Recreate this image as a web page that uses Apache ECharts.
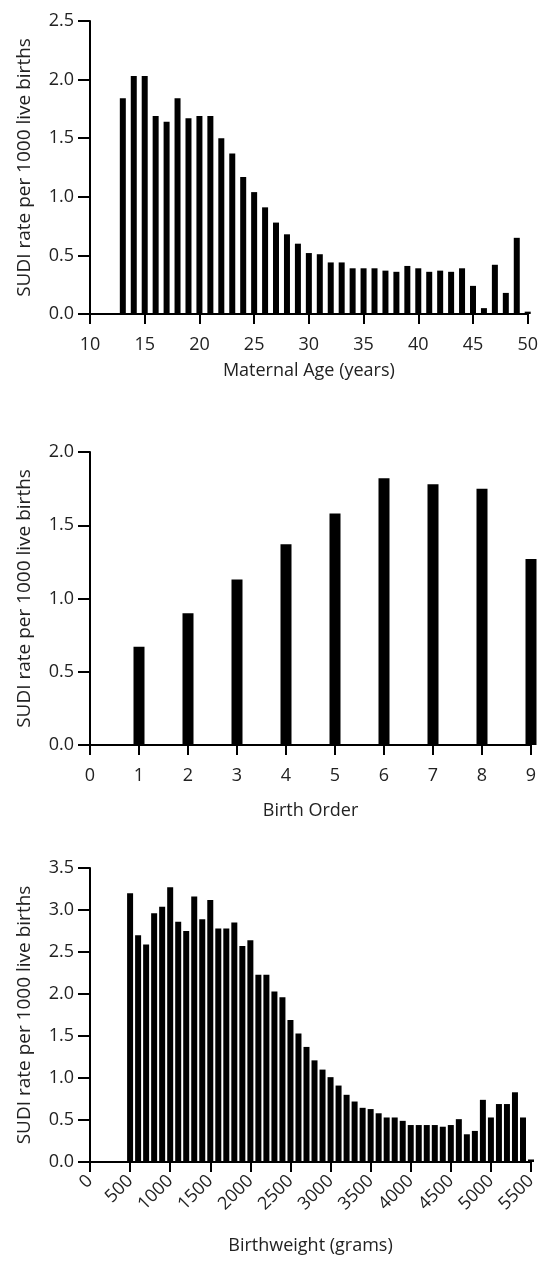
<!DOCTYPE html>
<html>
<head>
<meta charset="utf-8">
<script src="https://cdn.jsdelivr.net/npm/echarts@6/dist/echarts.min.js"></script>
<style>
  html, body { margin: 0; padding: 0; background: #fff; }
  #main { width: 541px; height: 1262px; }
</style>
</head>
<body>
<div id="main"></div>
<script>
// maternal age (years) -> SUDI rate
var ageYears = [13, 14, 15, 16, 17, 18, 19, 20, 21, 22, 23, 24, 25, 26, 27, 28, 29, 30, 31,
  32, 33, 34, 35, 36, 37, 38, 39, 40, 41, 42, 43, 44, 45, 46, 47, 48, 49, 50];
var ageRate = [1.84, 2.03, 2.03, 1.69, 1.64, 1.84, 1.67, 1.69, 1.69, 1.50, 1.37, 1.17, 1.04,
  0.91, 0.78, 0.68, 0.60, 0.52, 0.51, 0.44, 0.44, 0.39, 0.39, 0.39, 0.37, 0.36, 0.41, 0.39,
  0.36, 0.37, 0.36, 0.39, 0.24, 0.05, 0.42, 0.18, 0.65, 0.02];

// birth order -> SUDI rate
var birthOrder = [1, 2, 3, 4, 5, 6, 7, 8, 9];
var orderRate = [0.67, 0.90, 1.13, 1.37, 1.58, 1.82, 1.78, 1.75, 1.27];

// birthweight (grams) -> SUDI rate
var weightGrams = [500, 600, 700, 800, 900, 1000, 1100, 1200, 1300, 1400, 1500, 1600, 1700,
  1800, 1900, 2000, 2100, 2200, 2300, 2400, 2500, 2600, 2700, 2800, 2900, 3000, 3100, 3200,
  3300, 3400, 3500, 3600, 3700, 3800, 3900, 4000, 4100, 4200, 4300, 4400, 4500, 4600, 4700,
  4800, 4900, 5000, 5100, 5200, 5300, 5400, 5500];
var weightRate = [3.20, 2.70, 2.59, 2.96, 3.04, 3.27, 2.86, 2.75, 3.16, 2.89, 3.12, 2.78, 2.78,
  2.85, 2.57, 2.64, 2.23, 2.23, 2.03, 1.96, 1.69, 1.53, 1.37, 1.21, 1.10, 1.01, 0.91, 0.80,
  0.72, 0.645, 0.63, 0.58, 0.53, 0.53, 0.49, 0.44, 0.44, 0.44, 0.44, 0.42, 0.44, 0.51, 0.33,
  0.37, 0.74, 0.53, 0.69, 0.69, 0.83, 0.53, 0.03];

var yTitle = 'SUDI rate per 1000 live births';
var xTitles = ['Maternal Age (years)', 'Birth Order', 'Birthweight (grams)'];

var txt = '#222';
var fnt = 'Open Sans';

function pairs(xs, ys) {
  return xs.map(function (x, i) { return [x, ys[i]]; });
}

function xAxisCfg(idx, min, max, interval, extra) {
  var a = {
    type: 'value', gridIndex: idx, min: min, max: max, interval: interval,
    name: xTitles[idx], nameLocation: 'middle', nameGap: 48,
    nameTextStyle: { color: txt, fontSize: 18, fontFamily: fnt },
    axisLine: { show: true, onZero: false, lineStyle: { color: '#000', width: 2 } },
    axisTick: { show: true, length: 10, lineStyle: { color: '#000', width: 2 } },
    axisLabel: { color: txt, fontSize: 18, fontFamily: fnt, margin: 22,
      formatter: function (v) { return String(v); } },
    splitLine: { show: false }
  };
  for (var k in extra) a[k] = extra[k];
  return a;
}

function yAxisCfg(idx, max) {
  return {
    type: 'value', gridIndex: idx, min: 0, max: max, interval: 0.5,
    name: yTitle, nameLocation: 'middle', nameGap: 56, nameRotate: 90,
    nameTextStyle: { color: txt, fontSize: 19, fontFamily: fnt },
    axisLine: { show: true, lineStyle: { color: '#000', width: 2 } },
    axisTick: { show: true, length: 12, lineStyle: { color: '#000', width: 2 } },
    axisLabel: { color: txt, fontSize: 18, fontFamily: fnt, margin: 16,
      formatter: function (v) { return v.toFixed(1); } },
    splitLine: { show: false }
  };
}

var myChart = echarts.init(document.getElementById('main'), null, { renderer: 'canvas' });

var option = {
  backgroundColor: '#fff',
  animation: false,
  grid: [
    { left: 90, width: 441, top: 21, height: 293 },
    { left: 90, width: 441, top: 452, height: 293 },
    { left: 90, width: 441, top: 868, height: 294 }
  ],
  xAxis: [
    xAxisCfg(0, 10, 50, 5, {}),
    xAxisCfg(1, 0, 9, 1, { nameGap: 57 }),
    xAxisCfg(2, 0, 5500, 500, {
      nameGap: 75,
      axisLabel: { color: txt, fontSize: 18, fontFamily: fnt, margin: 16, rotate: 45,
        formatter: function (v) { return String(v); } }
    })
  ],
  yAxis: [
    yAxisCfg(0, 2.5),
    yAxisCfg(1, 2.0),
    yAxisCfg(2, 3.5)
  ],
  series: [
    { type: 'bar', xAxisIndex: 0, yAxisIndex: 0, barWidth: 6, clip: false,
      itemStyle: { color: '#000' }, data: pairs(ageYears, ageRate) },
    { type: 'bar', xAxisIndex: 1, yAxisIndex: 1, barWidth: 11, clip: false,
      itemStyle: { color: '#000' }, data: pairs(birthOrder, orderRate) },
    { type: 'bar', xAxisIndex: 2, yAxisIndex: 2, barWidth: 6, clip: false,
      itemStyle: { color: '#000' }, data: pairs(weightGrams, weightRate) }
  ]
};

myChart.setOption(option);
</script>
</body>
</html>
